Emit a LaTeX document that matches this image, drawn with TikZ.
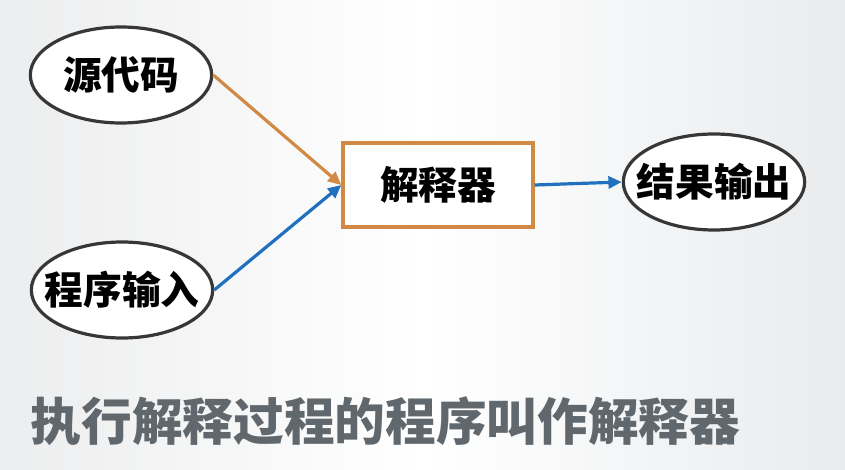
\documentclass[tikz,border=0pt]{standalone}
\usepackage{fontspec}
\newfontfamily\cjk{Noto Sans CJK SC}
\usetikzlibrary{shapes.geometric,arrows.meta}

\begin{document}
\begin{tikzpicture}[x=0.75pt,y=-0.75pt]
  \definecolor{colEdge} {RGB}{ 55, 55, 55}
  \definecolor{colBox}  {RGB}{208,138, 68}
  \definecolor{colFlow} {RGB}{ 32,112,190}
  \definecolor{colNote} {RGB}{ 96,104,110}
  \definecolor{colBgL}  {RGB}{236,237,238}
  \definecolor{colBgR}  {RGB}{233,235,237}
  \tikzset{
    io/.style={ellipse,draw=colEdge,line width=2.4pt,fill=white,
      minimum width=136pt,minimum height=72pt,inner xsep=-11pt,
      font=\cjk\bfseries\fontsize{29pt}{32pt}\selectfont},
    proc/.style={rectangle,draw=colBox,line width=3pt,fill=white,
      minimum width=142pt,minimum height=63pt,
      font=\cjk\bfseries\fontsize{29pt}{32pt}\selectfont},
    flow/.style={line width=2.4pt,-{Triangle[length=10pt,width=9pt]}}
  }
  % background
  \shade[left color=colBgL,right color=colBgR,middle color=white]
    (0,0) rectangle (845,470);
  \useasboundingbox (0,0) rectangle (845,470);
  % nodes
  \node[io]   (src)    at (121, 75) {源代码};
  \node[io]   (inp)    at (122,290) {程序输入};
  \node[proc] (interp) at (438,185) {解释器};
  \node[io]   (res)    at (714,182) {结果输出};
  % arrows
  \draw[flow,colBox]  (src.east) -- (interp.west);
  \draw[flow,colFlow] (inp.east) -- (interp.west);
  \draw[flow,colFlow] (interp.east) -- (res.west);
  % caption
  \node[anchor=west,text=colNote,font=\cjk\bfseries\fontsize{38pt}{42pt}\selectfont]
    (note) at (26,421) {执行解释过程的程序叫作解释器};
\end{tikzpicture}
\end{document}
